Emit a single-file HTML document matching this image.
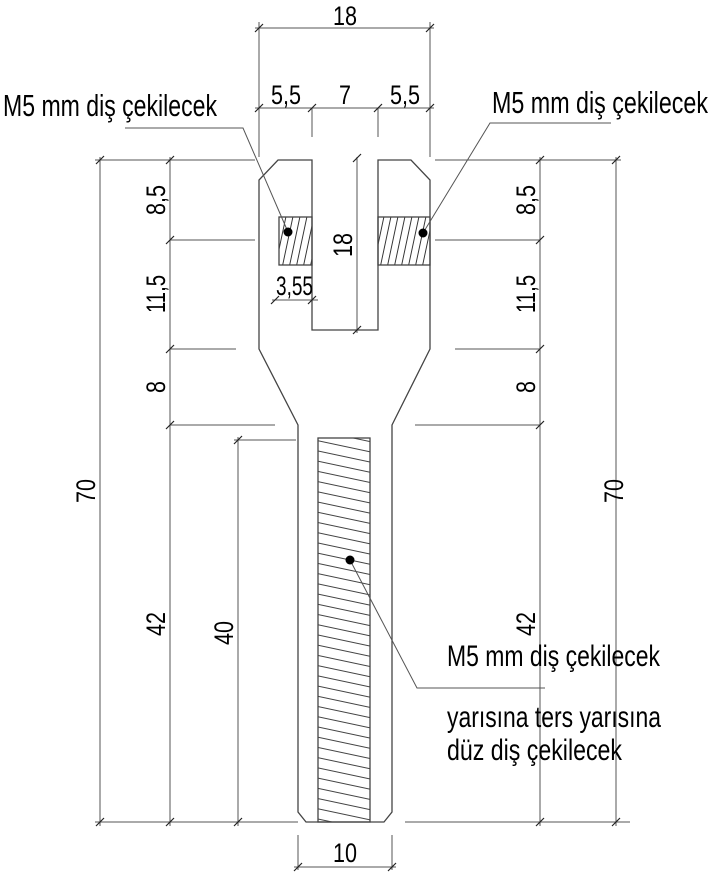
<!DOCTYPE html>
<html><head><meta charset="utf-8"><style>html,body{margin:0;padding:0;background:#fff}svg{display:block}</style></head>
<body>
<svg width="720" height="884" viewBox="0 0 720 884" xmlns="http://www.w3.org/2000/svg" font-family="'Liberation Sans',sans-serif" fill="#000">
<defs>
<pattern id="hd" patternUnits="userSpaceOnUse" width="7" height="50" patternTransform="skewX(-12)"><line x1="3" y1="0" x2="3" y2="50" stroke="#333" stroke-width="1"/></pattern>
<pattern id="hh" patternUnits="userSpaceOnUse" width="60" height="10" patternTransform="rotate(12)"><line x1="0" y1="5" x2="60" y2="5" stroke="#444" stroke-width="1"/></pattern>
</defs>
<g stroke="#444" stroke-width="1.3" fill="none">
<path d="M312,160 H278 L259,180 V349 L298,425 V812 L306,822 H384 L392,812 V425 L430,349 V180 L411,160 H378 V330 H312 Z"/>
<rect x="279" y="217" width="33" height="48" fill="url(#hd)"/>
<rect x="378" y="217" width="52" height="48" fill="url(#hd)"/>
<rect x="318" y="438" width="52" height="384" fill="url(#hh)"/>
</g>
<g stroke="#555" stroke-width="1" fill="none">
<line x1="255" y1="28" x2="434" y2="28"/>
<line x1="259" y1="22" x2="259" y2="157"/>
<line x1="430" y1="22" x2="430" y2="157"/>
<line x1="255" y1="108" x2="434" y2="108"/>
<line x1="312" y1="108" x2="312" y2="137"/>
<line x1="378" y1="108" x2="378" y2="137"/>
<line x1="357" y1="157" x2="357" y2="333"/>
<line x1="272" y1="300" x2="318" y2="300"/>
<line x1="100" y1="157" x2="100" y2="826"/>
<line x1="170" y1="157" x2="170" y2="826"/>
<line x1="95" y1="160" x2="255" y2="160"/>
<line x1="170" y1="240" x2="255" y2="240"/>
<line x1="170" y1="349" x2="236" y2="349"/>
<line x1="170" y1="425" x2="275" y2="425"/>
<line x1="238" y1="437" x2="238" y2="826"/>
<line x1="234" y1="440" x2="296" y2="440"/>
<line x1="540" y1="157" x2="540" y2="826"/>
<line x1="616" y1="157" x2="616" y2="826"/>
<line x1="435" y1="160" x2="621" y2="160"/>
<line x1="435" y1="240" x2="540" y2="240"/>
<line x1="455" y1="349" x2="540" y2="349"/>
<line x1="415" y1="425" x2="540" y2="425"/>
<line x1="95" y1="822" x2="298" y2="822"/>
<line x1="405" y1="822" x2="630" y2="822"/>
<line x1="298" y1="835" x2="298" y2="870"/>
<line x1="392" y1="835" x2="392" y2="870"/>
<line x1="294" y1="867" x2="396" y2="867"/>
<polyline points="125,128 243,128 288,232"/>
<polyline points="611,123 490,123 423,233"/>
<polyline points="350,560 417,688 545,688"/>
</g>
<g stroke="#222" stroke-width="1.2">
<path d="M255,32 l8,-8 M426,32 l8,-8 M255,112 l8,-8 M308,112 l8,-8 M374,112 l8,-8 M426,112 l8,-8 M353,162 l8,-8 M353,334 l8,-8 M271,304 l8,-8 M308,304 l8,-8
M96,164 l8,-8 M166,164 l8,-8 M166,244 l8,-8 M166,353 l8,-8 M166,429 l8,-8 M96,826 l8,-8 M166,826 l8,-8 M234,444 l8,-8 M234,826 l8,-8
M536,164 l8,-8 M612,164 l8,-8 M536,244 l8,-8 M536,353 l8,-8 M536,429 l8,-8 M536,826 l8,-8 M612,826 l8,-8 M294,871 l8,-8 M388,871 l8,-8"/>
</g>
<circle cx="288" cy="232" r="4.5"/>
<circle cx="423" cy="233" r="4.5"/>
<circle cx="350" cy="560" r="4.5"/>
<g font-size="27" lengthAdjust="spacingAndGlyphs">
<text x="333" y="25" textLength="24" lengthAdjust="spacingAndGlyphs">18</text>
<text x="271" y="104" textLength="30" lengthAdjust="spacingAndGlyphs">5,5</text>
<text x="339" y="104" textLength="12" lengthAdjust="spacingAndGlyphs">7</text>
<text x="390" y="104" textLength="30" lengthAdjust="spacingAndGlyphs">5,5</text>
<text x="276" y="295" textLength="37" lengthAdjust="spacingAndGlyphs">3,55</text>
<text x="3" y="116" font-size="31" textLength="214" lengthAdjust="spacingAndGlyphs">M5 mm diş çekilecek</text>
<text x="492" y="113" font-size="31" textLength="216" lengthAdjust="spacingAndGlyphs">M5 mm diş çekilecek</text>
<text x="447" y="666" font-size="30" textLength="213" lengthAdjust="spacingAndGlyphs">M5 mm diş çekilecek</text>
<text x="447" y="727" font-size="30" textLength="214" lengthAdjust="spacingAndGlyphs">yarısına ters yarısına</text>
<text x="447" y="760" font-size="30" textLength="175" lengthAdjust="spacingAndGlyphs">düz diş çekilecek</text>
<text x="333" y="862" textLength="24" lengthAdjust="spacingAndGlyphs">10</text>
<g text-anchor="start">
<text transform="translate(95,503) rotate(-90)" textLength="24" lengthAdjust="spacingAndGlyphs">70</text>
<text transform="translate(623,503) rotate(-90)" textLength="24" lengthAdjust="spacingAndGlyphs">70</text>
<text transform="translate(165,215) rotate(-90)" textLength="30" lengthAdjust="spacingAndGlyphs">8,5</text>
<text transform="translate(165,313) rotate(-90)" textLength="38" lengthAdjust="spacingAndGlyphs">11,5</text>
<text transform="translate(165,393) rotate(-90)" textLength="12" lengthAdjust="spacingAndGlyphs">8</text>
<text transform="translate(165,636) rotate(-90)" textLength="24" lengthAdjust="spacingAndGlyphs">42</text>
<text transform="translate(233,645) rotate(-90)" textLength="24" lengthAdjust="spacingAndGlyphs">40</text>
<text transform="translate(352,257) rotate(-90)" textLength="24" lengthAdjust="spacingAndGlyphs">18</text>
<text transform="translate(535,215) rotate(-90)" textLength="30" lengthAdjust="spacingAndGlyphs">8,5</text>
<text transform="translate(535,313) rotate(-90)" textLength="38" lengthAdjust="spacingAndGlyphs">11,5</text>
<text transform="translate(535,393) rotate(-90)" textLength="12" lengthAdjust="spacingAndGlyphs">8</text>
<text transform="translate(535,636) rotate(-90)" textLength="24" lengthAdjust="spacingAndGlyphs">42</text>
</g>
</g>
</svg>
</body></html>
